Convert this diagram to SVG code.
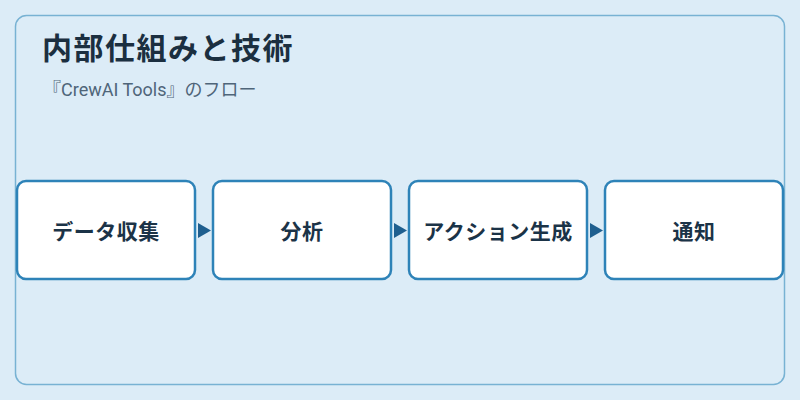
<svg xmlns="http://www.w3.org/2000/svg" width="800" height="400" viewBox="0 0 800 400">
<style>
.node rect{fill:#ffffff;stroke:#2e83b8;stroke-width:2.5}
.lbl{font-family:"Noto Sans CJK JP","Noto Sans",sans-serif;font-weight:bold;font-size:21px;letter-spacing:0.5px;fill:#1b3347;text-anchor:middle}
.arr{fill:#1f5f8f}
</style>
<rect width="800" height="400" fill="#dcecf7"/>
<rect x="15.5" y="15.5" width="769" height="369" rx="11" fill="#dcecf7" stroke="#78b2d3" stroke-width="1.5"/>
<text x="42" y="59" font-family="'Noto Sans CJK JP','Noto Sans',sans-serif" font-weight="bold" font-size="30" letter-spacing="1.5" fill="#1b2f40">内部仕組みと技術</text>
<text x="43" y="96" font-family="Roboto,'Noto Sans CJK JP',sans-serif" font-size="18" fill="#4f6579">『CrewAI Tools』のフロー</text>
<g id="connectors">
<polygon class="arr" points="198,223 211,230.5 198,238"/>
<polygon class="arr" points="394,223 407,230.5 394,238"/>
<polygon class="arr" points="590,223 603,230.5 590,238"/>
</g>
<g id="n1" class="node"><rect x="17" y="181" width="178" height="98" rx="9"/><text class="lbl" x="106" y="239">データ収集</text></g>
<g id="n2" class="node"><rect x="213" y="181" width="178" height="98" rx="9"/><text class="lbl" x="302" y="239">分析</text></g>
<g id="n3" class="node"><rect x="409" y="181" width="178" height="98" rx="9"/><text class="lbl" x="498" y="239">アクション生成</text></g>
<g id="n4" class="node"><rect x="605" y="181" width="178" height="98" rx="9"/><text class="lbl" x="694" y="239">通知</text></g>
</svg>
